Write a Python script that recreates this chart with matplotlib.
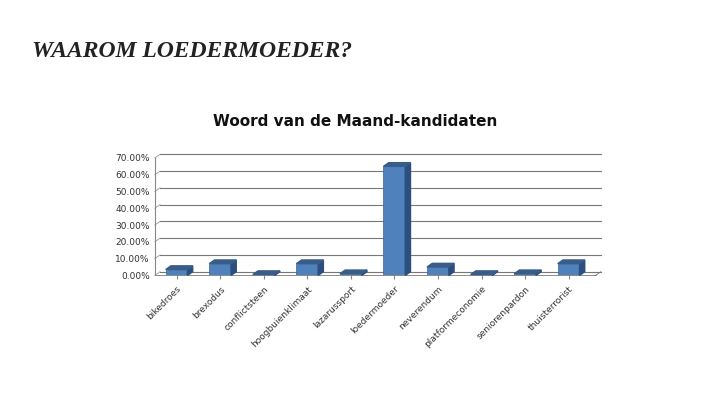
import matplotlib
matplotlib.use("Agg")
import matplotlib.pyplot as plt
from matplotlib.patches import Polygon
from matplotlib.ticker import FuncFormatter

categories = ["bikedroes", "brexodus", "conflictsteen", "hoogbuienklimaat", "lazarussport",
              "loedermoeder", "neverendum", "platformeconomie", "seniorenpardon", "thuisterrorist"]
values = [3.5, 7.0, 0.5, 7.0, 1.0, 65.0, 5.0, 0.5, 1.0, 7.0]
yticks = [0, 10, 20, 30, 40, 50, 60, 70]

fig = plt.figure(figsize=(7.2, 4.05), dpi=100)
fig.patch.set_facecolor("white")
fig.text(0.045, 0.86, "WAAROM LOEDERMOEDER?", fontsize=17, family="Liberation Serif",
         fontweight="bold", color="#222222", fontstyle="italic")
fig.text(0.493, 0.69, "Woord van de Maand-kandidaten", fontsize=11, fontweight="bold",
         ha="center", color="#111111")

ax = fig.add_axes([0.215, 0.32, 0.605, 0.29])
ax.set_xlim(-0.5, len(categories) - 0.5)
ax.set_ylim(0, 70)
dx, dy = 0.12, 2.2
for y in yticks:
    ax.plot([-0.5 + dx, len(categories) - 0.5 + dx * 2], [y + dy, y + dy], color="#777777", lw=0.8, zorder=0, clip_on=False)
    ax.plot([-0.5, -0.5 + dx], [y, y + dy], color="#999999", lw=0.6, zorder=0, clip_on=False)
ax.plot([-0.5, len(categories) - 0.5 + dx], [0, 0], color="#777777", lw=0.6, clip_on=False)
ax.plot([len(categories) - 0.5 + dx, len(categories) - 0.5 + dx * 2], [0, dy], color="#777777", lw=0.6, clip_on=False)

w = 0.5
for i, v in enumerate(values):
    x0, x1 = i - w / 2, i + w / 2
    ax.bar(i, v, width=w, color="#4f81bd", edgecolor="#3a6299", lw=0.5, zorder=3)
    ax.add_patch(Polygon([(x1, 0), (x1 + dx, dy), (x1 + dx, v + dy), (x1, v)],
                         closed=True, color="#2c4f80", zorder=3, clip_on=False))
    ax.add_patch(Polygon([(x0, v), (x0 + dx, v + dy), (x1 + dx, v + dy), (x1, v)],
                         closed=True, color="#385d8a", zorder=3, clip_on=False))

ax.set_yticks(yticks)
ax.yaxis.set_major_formatter(FuncFormatter(lambda y, p: f"{y:.2f}%"))
ax.set_xticks(range(len(categories)))
ax.set_xticklabels(categories, rotation=45, ha="right", rotation_mode="anchor", fontsize=6.5, color="#333333")
ax.tick_params(axis="y", labelsize=6.5, colors="#333333", length=0)
ax.tick_params(axis="x", length=3, color="#888888")
for s in ax.spines.values():
    s.set_visible(False)
ax.spines["left"].set_visible(True)
ax.spines["left"].set_color("#888888")

fig.savefig("out.png", dpi=100)
